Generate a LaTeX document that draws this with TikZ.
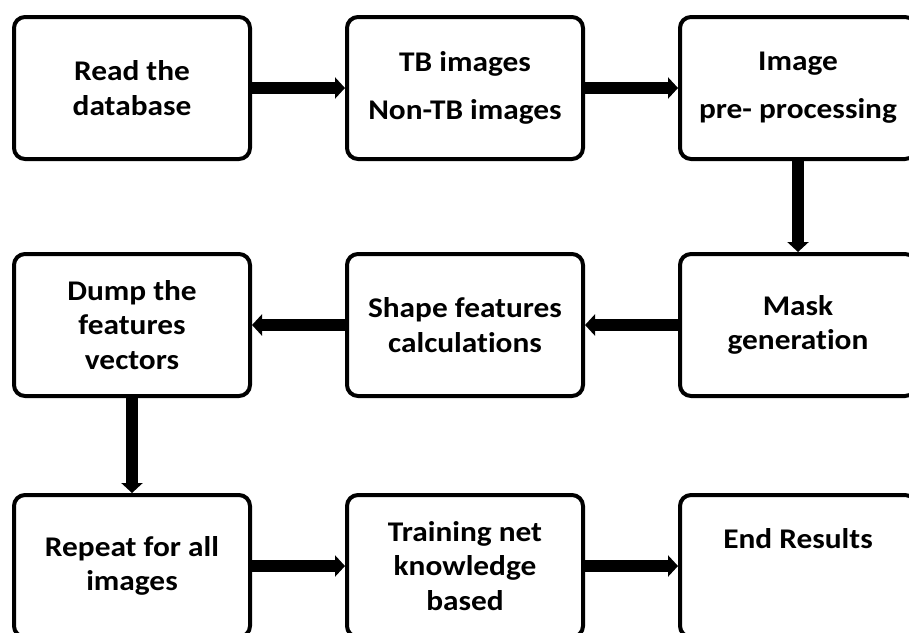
\documentclass[tikz,border=0pt]{standalone}
\usepackage{fontspec}
\newfontfamily\boxfont{Carlito}[FakeStretch=1.1, Ligatures=NoCommon]
\usetikzlibrary{arrows.meta}
\begin{document}
\begin{tikzpicture}[x=1pt,y=-1pt,
  box/.style={draw, line width=4pt, rounded corners=11pt,
    minimum width=236pt, minimum height=142pt, inner sep=0pt,
    align=center, font=\boxfont\bfseries\fontsize{28.5pt}{34.5pt}\selectfont},
  flow/.style={line width=12pt, -{Triangle[length=10pt,width=21pt]}}]
\useasboundingbox (0,0) rectangle (909,632);
\node[box] (read) at (132,88) {Read the\\database};
\node[box] (tb) at (465,88) {TB images\\[13.5pt]Non-TB images};
\node[box] (pre) at (798,88) {Image\\[13.5pt]pre- processing};
\node[box] (dump) at (132,325) {Dump the\\features\\vectors};
\node[box] (shape) at (465,325) {Shape features\\calculations};
\node[box] (mask) at (798,325) {Mask\\generation};
\node[box] (rep) at (132,566) {Repeat for all\\images};
\node[box] (train) at (465,566) {Training net\\knowledge\\based};
\node[box, text height=20pt, text depth=56pt] (end) at (798,566) {End Results};
\draw[flow] (read.east) -- (tb.west);
\draw[flow] (tb.east) -- (pre.west);
\draw[flow] (pre.south) -- (mask.north);
\draw[flow] (mask.west) -- (shape.east);
\draw[flow] (shape.west) -- (dump.east);
\draw[flow] (dump.south) -- (rep.north);
\draw[flow] (rep.east) -- (train.west);
\draw[flow] (train.east) -- (end.west);
\end{tikzpicture}
\end{document}
